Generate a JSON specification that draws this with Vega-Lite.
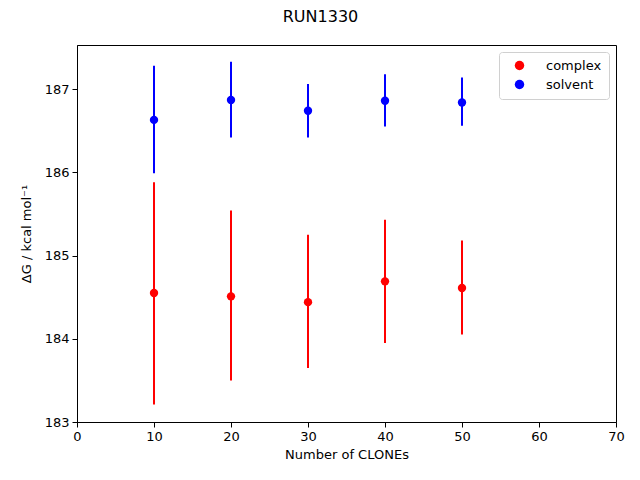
{
  "$schema": "https://vega.github.io/schema/vega-lite/v6.json",
  "width": 539,
  "height": 377,
  "autosize": "none",
  "padding": {"left": 77, "top": 45, "right": 24, "bottom": 58},
  "background": "white",
  "title": {"text": "RUN1330", "fontSize": 16, "font": "DejaVu Sans", "fontWeight": "normal", "anchor": "middle", "dx": -26, "offset": 20, "color": "black"},
  "config": {
    "view": {"stroke": "black", "strokeWidth": 1},
    "axis": {"grid": false, "labelFont": "DejaVu Sans", "titleFont": "DejaVu Sans", "labelFontSize": 13, "titleFontSize": 13, "titleFontWeight": "normal", "labelColor": "black", "titleColor": "black", "tickColor": "black", "domainColor": "black", "tickSize": 5, "labelPadding": 3}
  },
  "data": {"values": [
    {"clones": 10, "series": "complex", "dg": 184.55, "lo": 183.21, "hi": 185.88},
    {"clones": 20, "series": "complex", "dg": 184.51, "lo": 183.50, "hi": 185.54},
    {"clones": 30, "series": "complex", "dg": 184.44, "lo": 183.65, "hi": 185.25},
    {"clones": 40, "series": "complex", "dg": 184.69, "lo": 183.95, "hi": 185.43},
    {"clones": 50, "series": "complex", "dg": 184.61, "lo": 184.05, "hi": 185.18},
    {"clones": 10, "series": "solvent", "dg": 186.63, "lo": 185.99, "hi": 187.28},
    {"clones": 20, "series": "solvent", "dg": 186.87, "lo": 186.42, "hi": 187.33},
    {"clones": 30, "series": "solvent", "dg": 186.74, "lo": 186.42, "hi": 187.06},
    {"clones": 40, "series": "solvent", "dg": 186.86, "lo": 186.55, "hi": 187.18},
    {"clones": 50, "series": "solvent", "dg": 186.84, "lo": 186.56, "hi": 187.14}
  ]},
  "layer": [
    {
      "mark": {"type": "rule", "strokeWidth": 2},
      "encoding": {
        "x": {"field": "clones", "type": "quantitative"},
        "y": {"field": "lo", "type": "quantitative"},
        "y2": {"field": "hi"},
        "color": {"field": "series", "type": "nominal", "scale": {"domain": ["complex", "solvent"], "range": ["#ff0000", "#0000ff"]}}
      }
    },
    {
      "mark": {"type": "point", "filled": true, "shape": "circle", "size": 70, "opacity": 1},
      "encoding": {
        "x": {"field": "clones", "type": "quantitative", "title": "Number of CLONEs", "scale": {"domain": [0, 70], "nice": false, "zero": false}, "axis": {"values": [0, 10, 20, 30, 40, 50, 60, 70], "format": "d", "labelFlush": false, "titlePadding": 5}},
        "y": {"field": "dg", "type": "quantitative", "title": "ΔG / kcal mol⁻¹", "scale": {"domain": [183, 187.53], "nice": false, "zero": false}, "axis": {"values": [183, 184, 185, 186, 187], "format": "d", "labelFlush": false, "titlePadding": 11}},
        "color": {"field": "series", "type": "nominal", "scale": {"domain": ["complex", "solvent"], "range": ["#ff0000", "#0000ff"]},
          "legend": {"title": null, "orient": "top-right", "offset": 7, "labelFont": "DejaVu Sans", "labelFontSize": 13, "labelColor": "black", "symbolSize": 90, "symbolType": "circle", "symbolFillColor": null, "symbolStrokeWidth": 0, "strokeColor": "#d0d0d0", "fillColor": "white", "padding": 7, "cornerRadius": 3, "rowPadding": 5, "labelOffset": 20, "symbolOffset": 7}}
      }
    }
  ]
}
